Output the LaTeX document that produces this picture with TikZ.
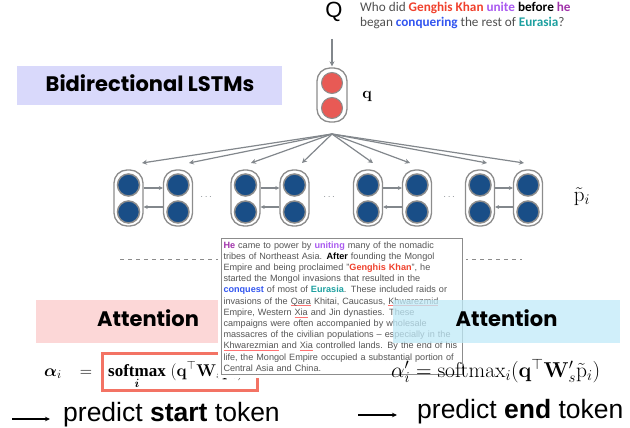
\RequirePackage{fix-cm}
\documentclass[tikz,border=0pt]{standalone}
\usepackage{amsmath,amssymb,bm}
\usepackage[no-math]{fontspec}
\setmainfont{Liberation Sans}
\newfontfamily\titlefont{Poppins}
\newfontfamily\carl{Carlito}
\newfontfamily\tnr{Liberation Serif}
\usetikzlibrary{arrows.meta,calc}
\definecolor{lav}{RGB}{217,217,251}
\definecolor{pinkbox}{RGB}{252,215,215}
\definecolor{bluebox}{RGB}{192,234,248}
\definecolor{redline}{RGB}{243,115,100}
\definecolor{lstmblue}{RGB}{25,78,135}
\definecolor{qred}{RGB}{232,90,85}
\definecolor{cellgray}{RGB}{140,140,140}
\definecolor{arrgray}{RGB}{130,135,140}
\definecolor{passgray}{RGB}{85,85,85}
\definecolor{qgray}{RGB}{80,80,80}
\definecolor{gred}{RGB}{240,65,45}
\definecolor{upur}{RGB}{170,90,240}
\definecolor{hemag}{RGB}{160,50,170}
\definecolor{cblue}{RGB}{50,85,240}
\definecolor{eteal}{RGB}{30,160,160}
\newcommand\splw[1]{\leavevmode\setbox0\hbox{#1}\rlap{\color{red!55}\rule[-1.8pt]{\wd0}{0.4pt}}\box0\relax}
\begin{document}
\begin{tikzpicture}[x=1pt,y=-1pt,
  cell/.style={draw=cellgray, line width=1.3pt, rounded corners=13pt, minimum width=29pt, minimum height=56pt, inner sep=0pt},
  bdot/.style={circle, fill=lstmblue, draw=cellgray, line width=1.5pt, minimum size=22pt, inner sep=0pt},
  rdot/.style={circle, fill=qred, draw=cellgray, line width=1pt, minimum size=21pt, inner sep=0pt},
  fanarrow/.style={draw=arrgray, line width=1.2pt, -{Stealth[length=5pt,width=5pt]}},
  harrow/.style={draw=arrgray, line width=1.2pt, -{Stealth[length=4pt,width=4pt]}},
  blackarrow/.style={draw=black, line width=1.2pt, -{Stealth[length=5pt,width=4.5pt]}},
  titletext/.style={inner sep=0pt, font=\titlefont\bfseries\fontsize{21}{21}\selectfont},
  dashline/.style={draw=cellgray, line width=1pt, dash pattern=on 4pt off 4pt},
  passage/.style={draw=cellgray, line width=1pt, fill=white, preaction={draw=white, line width=7pt}, inner xsep=2pt, inner ysep=3pt, text width=237pt, align=left, text=passgray, font=\fontsize{9.1}{11.2}\selectfont},
  bottomtext/.style={inner sep=0pt, anchor=base west, font=\fontsize{26.5}{26.5}\selectfont}
]
\useasboundingbox (0,0) rectangle (630,428);

% question
\node[inner sep=0pt, font=\fontsize{22}{22}\selectfont] (Q) at (334,12) {Q};
\node[anchor=west, align=left, inner sep=0pt, text=qgray, font=\carl\fontsize{13.2}{15}\selectfont] (qtext) at (360,16)
 {Who did \textbf{\textcolor{gred}{Genghis Khan}} \textbf{\textcolor{upur}{unite}} \textbf{\textcolor{black}{before}} \textbf{\textcolor{hemag}{he}}\\
  began \textbf{\textcolor{cblue}{conquering}} the rest of \textbf{\textcolor{eteal}{Eurasia}}?};

% title
\node[fill=lav, minimum width=265pt, minimum height=39pt, inner sep=0pt] (blbg) at (149.5,85.5) {};
\node[titletext] (bl) at (150,83) {Bidirectional LSTMs};

% q node
\node[draw=cellgray, line width=1.3pt, rounded corners=13pt, minimum width=30pt, minimum height=54pt, inner sep=0pt] (qn) at (332,95) {};
\node[rdot] (q1) at (332,83) {};
\node[rdot] (q2) at (332,108) {};
\node[inner sep=0pt, font=\fontsize{16}{16}\selectfont] (qlab) at (367,97) {$\mathbf{q}$};
\draw[draw=arrgray, line width=1.2pt, -{Stealth[length=5pt,width=5pt]}, shorten <=17pt, shorten >=1pt] (qn.north |- Q.south) -- (qn.north);

% fan
\coordinate (fan) at (332,134);
\foreach \i/\x in {1/142,2/189,3/251,4/302,5/373,6/410,7/487,8/524}{
  \coordinate (f\i) at (\x,163);
  \draw[fanarrow] (fan) -- (f\i);
}

% cells
\foreach \i/\x in {1/128.5,2/178,3/245.5,4/294.5,5/368,6/417,7/480,8/528}{
  \node[cell] (c\i) at (\x,198) {};
  \node[bdot] (c\i a) at (\x,185) {};
  \node[bdot] (c\i b) at (\x,212) {};
  \coordinate (c\i t) at (\x,188);
  \coordinate (c\i u) at (\x,207);
}
\foreach \a/\b in {1/2,3/4,5/6,7/8}{
  \draw[harrow] (c\a t -| c\a.east) -- (c\a t -| c\b.west);
  \draw[harrow] (c\a u -| c\b.west) -- (c\a u -| c\a.east);
}
\foreach \i/\x in {1/207,2/330,3/450}{
  \node[text=arrgray, inner sep=0pt] (dots\i) at (\x,197) {$\cdots$};
}
\node[inner sep=0pt, font=\fontsize{21}{21}\selectfont] (ptil) at (582,197) {$\tilde{\mathrm{p}}_i$};

% attention left
\node[fill=pinkbox, minimum width=224pt, minimum height=43pt, inner sep=0pt] (attLbg) at (148,321.5) {};
\node[titletext] (attL) at (148,318) {Attention};
\node[inner sep=0pt, anchor=base, font=\fontsize{17}{17}\selectfont] (alphaL) at (53,376) {$\boldsymbol{\alpha}_i$};
\node[inner sep=0pt, anchor=base, font=\fontsize{17}{17}\selectfont] (eqL) at (86,376) {$=$};
\node[draw=redline, line width=3pt, minimum width=155pt, minimum height=37pt, inner sep=0pt] (rbox) at (179.5,371.5) {};
\node[inner sep=0pt, anchor=base west, font=\fontsize{17}{17}\selectfont] (formL) at (108,376)
  {$\mathop{\text{\tnr\bfseries softmax}}\limits_{\boldsymbol{i}}\;(\mathbf{q}^{\top}\mathbf{W}_s\tilde{\mathbf{p}}_i)$};

% dashed separator
\coordinate (dl) at (120,259);
\coordinate (dr) at (522,259);
\draw[dashline] (dl) -- (dr);

% passage
\node[passage, anchor=north west] (pass) at (221,238) {%
\textbf{\textcolor{hemag}{He}} came to power by \textbf{\textcolor{upur}{uniting}} many of the nomadic\\
tribes of Northeast Asia. \textbf{\textcolor{black}{After}} founding the Mongol\\
Empire and being proclaimed "\textbf{\textcolor{gred}{Genghis Khan}}", he\\
started the Mongol invasions that resulted in the\\
\textbf{\textcolor{cblue}{conquest}} of most of \textbf{\textcolor{eteal}{Eurasia}}. These included raids or\\
invasions of the \splw{Qara} Khitai, Caucasus, \splw{Khwarezmid}\\
Empire, Western \splw{Xia} and Jin dynasties. These\\
campaigns were often accompanied by wholesale\\
massacres of the civilian populations -- especially in the\\
\splw{Khwarezmian} and \splw{Xia} controlled lands. By the end of his\\
life, the Mongol Empire occupied a substantial portion of\\
Central Asia and China.};

% attention right
\node[fill=bluebox, fill opacity=0.75, minimum width=227pt, minimum height=43pt, inner sep=0pt] (attRbg) at (506.5,321.5) {};
\node[titletext] (attR) at (506.5,318) {Attention};
\node[inner sep=0pt, anchor=base west, font=\fontsize{21.5}{21.5}\selectfont] (formR) at (391,377)
  {$\alpha'_i = \mathrm{softmax}_i(\mathbf{q}^{\top}\mathbf{W}'_s\tilde{\mathrm{p}}_i)$};

% predictions
\coordinate (la1) at (12,419);
\coordinate (la2) at (50,419);
\draw[blackarrow] (la1) -- (la2);
\node[bottomtext] (predL) at (63,421) {predict \textbf{start} token};
\coordinate (ra1) at (358,415);
\coordinate (ra2) at (397,415);
\draw[blackarrow] (ra1) -- (ra2);
\node[bottomtext] (predR) at (417,418) {predict \textbf{end} token};
\end{tikzpicture}
\end{document}
